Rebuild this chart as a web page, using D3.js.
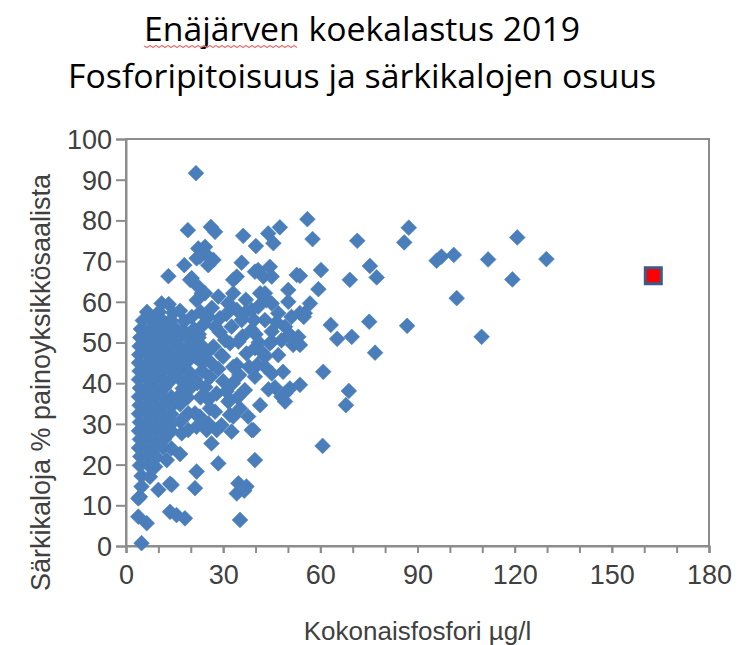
<!DOCTYPE html>
<html>
<head>
<meta charset="utf-8">
<script src="https://cdn.jsdelivr.net/npm/d3@7"></script>
<style>
  body { margin: 0; background: #fff; }
</style>
</head>
<body>
<div id="chart"></div>
<script>
// chart texts
var titleLines = ["Enäjärven koekalastus 2019", "Fosforipitoisuus ja särkikalojen osuus"];
var xLabel = "Kokonaisfosfori µg/l";
var yLabel = "Särkikaloja % painoyksikkösaalista";

// tick values
var xTicks = [0, 30, 60, 90, 120, 150, 180];
var xMinorTicks = [0, 10, 20, 30, 40, 50, 60, 70, 80, 90, 100, 110, 120, 130, 140, 150, 160, 170, 180];
var yTicks = [0, 10, 20, 30, 40, 50, 60, 70, 80, 90, 100];

// samples [total phosphorus, roach %]
var samplesLow = [
  [6.5, 57.5], [10.2, 57.5], [14.6, 57.3], [16.7, 57.8], [11, 59.6], [13.2, 59.4], [13.1, 66.3], [18, 69], [19.1, 77.6],
  [5.2, 55.4], [8, 55.6], [11.5, 55.2], [13.8, 55.5], [18, 55.2], [20.3, 56.3],
  [4.6, 53.3], [7.2, 53.1], [9.8, 53.5], [12.4, 53.2], [15.2, 53.4], [17.6, 53], [21, 53.3],
  [4.4, 51.2], [6.8, 51.4], [9.3, 51], [11.8, 51.3], [14.3, 51.1], [16.8, 51.4], [19.4, 51], [22.4, 51.2],
  [4.2, 49.1], [6.5, 49.3], [9, 48.9], [11.4, 49.2], [13.8, 49], [16.3, 49.3], [18.8, 48.8], [21.2, 49.1],
  [4.1, 47], [6.6, 47.2], [9.1, 46.8], [11.6, 47.1], [14.1, 46.9], [16.6, 47.2], [19.1, 46.8], [21.6, 47],
  [4, 45], [6.4, 44.8], [8.9, 45.2], [11.3, 44.9], [13.8, 45.1], [16.2, 44.8], [18.8, 45.2], [23.5, 45],
  [4.2, 43], [6.7, 43.2], [9.2, 42.8], [11.7, 43.1], [14.2, 42.9], [16.7, 43.2], [19.4, 42.8],
  [4, 40.9], [6.5, 41.1], [9, 40.7], [11.5, 41], [14, 40.8], [16.5, 41.1], [19, 40.7], [21.3, 40.9],
  [4.3, 38.8], [6.8, 39], [9.3, 38.6], [11.8, 38.9], [17.5, 38.7], [20, 38.9],
  [4, 36.7], [6.5, 36.9], [9, 36.5], [11.5, 36.8], [14, 36.6], [16.4, 36.9], [19, 36.5],
  [4.2, 34.6], [6.7, 34.8], [9.2, 34.4], [11.7, 34.7], [14.2, 34.5], [16.7, 34.8],
  [4, 32.5], [6.5, 32.7], [9, 32.3], [11.5, 32.6], [14, 32.4], [19.2, 32.6],
  [4.3, 30.4], [6.8, 30.6], [9.3, 30.2], [11.8, 30.5], [14.3, 30.3], [16.8, 30.6],
  [4, 28.3], [6.5, 28.5], [9, 28.1], [11.5, 28.4], [14, 28.2], [19.2, 28.5],
  [4.3, 26.2], [6.8, 26.4], [9.3, 26], [11.8, 26.3], [17.2, 27.7],
  [4, 24.1], [6.5, 24.3], [9, 23.9], [11.5, 24.2], [14, 24],
  [4.4, 22], [6.9, 22.2], [9.4, 21.8], [12.6, 21.1], [16.7, 22.6],
  [4.3, 19.8], [6.8, 20], [9, 19.5],
  [4.8, 17.2], [7.4, 17],
  [4.8, 14.6], [10, 13.8], [14.1, 15], [13.6, 15.3],
  [4.3, 12.1], [3.8, 11.7], [3.8, 7.2], [6.4, 5.6], [13.6, 8.4], [15.6, 7.6], [18.2, 6.8], [4.8, 0.7],
  [19.8, 65.4]
];

var samplesMid = [
  [21.6, 91.6], [26.2, 78.4], [27.5, 77.2], [22.3, 73.1], [22.8, 71.1], [24.9, 71.5], [27, 70.3], [21.8, 70.7],
  [24.4, 73.5], [25.4, 69], [36.2, 76.2], [40.1, 73.7], [43.9, 76.8], [47.5, 78.3], [45.5, 74.4], [56, 80.3], [57.6, 75.4],
  [35.7, 69.6], [20.3, 65.8], [22.3, 63.7], [23.4, 62.1], [21.8, 60.4], [24.4, 62.1],
  [34.2, 66.2], [33.1, 65.4], [39.8, 67.4], [44.4, 68.6], [42.4, 66.2], [45, 66.2], [40.8, 67.8], [52.7, 66.6], [53.7, 66.4],
  [28.5, 61.3], [33.1, 62.1], [31.6, 59.6], [34.2, 58], [41.4, 62.1], [43.4, 60.4], [40.8, 58.8], [38.8, 58], [50.1, 62.9],
  [53.7, 57.2], [56.8, 59.6], [60.2, 67.8], [59.4, 63.1], [54.9, 56.3], [45, 59.6], [47, 57.2], [50.1, 60], [51.1, 56.3],
  [55.2, 57.2], [42.9, 62.1],
  [25.4, 56.3], [27.5, 53.9], [32.6, 53.9], [35.7, 55.5], [38.8, 53.1], [42.9, 55.5], [45, 52.7], [49.1, 53.9], [53.2, 51.4],
  [30.6, 50.6], [34.7, 50.2], [45, 50.2], [53.7, 49.4],
  [32.1, 49.8], [29.5, 46.9], [26.4, 44.9], [34.2, 44.5], [37.2, 47.3], [39.8, 48.6], [42.9, 46.5], [44.4, 49.8], [47, 46.9],
  [51.6, 49.4], [45, 42.4], [48.5, 42.8], [39.8, 41.6], [36.7, 38.3], [49.1, 37.5], [50.6, 38.7], [49.1, 35.5], [28, 37.5],
  [31.6, 35.5], [41.4, 34.6], [27.5, 33], [33.1, 31.8], [37.7, 31.8], [25.4, 30.1], [29.5, 29.7], [32.6, 28.1], [38.8, 28.5],
  [26.4, 25.2], [28.5, 20.3], [39.8, 21.1], [34.7, 15.4], [37.2, 14.6], [34.2, 12.9], [36.5, 13.6], [35.2, 6.4],
  [30, 46.5], [33.1, 44], [42.4, 47.3], [48, 36.7], [35.2, 33.8], [32.1, 35.9], [25.9, 33.8], [22.8, 31.8], [21.8, 29.3],
  [24.9, 28.5], [28, 28.5], [32.1, 32.2], [39.3, 28.5], [23.4, 30.1], [21.3, 32.6], [21.8, 18.3], [21.3, 14.2],
  [60.7, 24.6], [60.9, 42.8], [53.7, 39.6],
  [22.5, 52], [24, 54.5], [23, 49.5], [25, 47.5], [21.5, 46.5], [23.5, 43], [22, 40], [24.5, 39], [26, 41.5], [28.5, 43.5],
  [23, 36.5], [25.5, 36], [27, 49], [29, 52.5], [26.5, 58.5], [23, 57.5], [29, 56], [31, 57], [37, 60.5], [36, 51.5],
  [40, 52], [41, 50], [38, 44], [40.5, 44.5], [43, 44], [46, 39], [44, 38.5], [30, 40.5], [33, 40], [35, 42], [31, 38],
  [34.5, 36.5], [46.5, 55], [48, 50.5], [50.5, 52], [39.5, 55.5], [37, 57.5]
];

var samplesHigh = [
  [71.4, 75], [87.3, 78.2], [85.9, 74.6], [120.8, 75.8], [129.8, 70.5], [95.9, 70.1], [97.4, 71.1], [101.2, 71.5],
  [111.8, 70.4], [119.3, 65.5], [102.1, 60.9], [109.8, 51.4], [86.8, 54.1], [69.1, 65.4], [75.3, 68.8], [77.4, 66],
  [63.2, 54.3], [65.2, 50.9], [69.7, 51.4], [75.1, 55.1], [76.9, 47.5], [68.8, 38.1], [67.9, 34.6]
];

// Enäjärvi 2019
var lakeEna = [[162.8, 66.4]];

var samples = samplesLow.concat(samplesMid, samplesHigh);

var width = 742, height = 645;
var margin = { top: 139, right: 33, bottom: 99, left: 126 };
var plotW = width - margin.left - margin.right,
    plotH = height - margin.top - margin.bottom;

var svg = d3.select("#chart").append("svg")
    .attr("width", width)
    .attr("height", height);

var x = d3.scaleLinear().domain([0, 180]).range([0, plotW]);
var y = d3.scaleLinear().domain([0, 100]).range([plotH, 0]);

var g = svg.append("g")
    .attr("transform", "translate(" + margin.left + "," + margin.top + ")");

var axisColor = "#8c8c8c";
var textColor = "#404040";

// title
var title = svg.append("g");
titleLines.forEach(function(t, i) {
    title.append("text")
        .attr("x", 362)
        .attr("y", 41 + i * 47)
        .attr("text-anchor", "middle")
        .attr("textLength", i == 0 ? 436 : 588)
        .attr("lengthAdjust", "spacingAndGlyphs")
        .style("font-family", "'Open Sans', 'Noto Sans', sans-serif")
        .style("font-size", "33px")
        .style("fill", "#000")
        .text(t);
});

// spell-check squiggle under the first word
var firstWordW = 436 * 9 / 26;
var squiggle = d3.path();
var sx0 = 362 - 218, sy = 46;
squiggle.moveTo(sx0, sy);
for (var k = 0; k < firstWordW / 3; k++) {
    squiggle.lineTo(sx0 + (k + 1) * 3, sy + (k % 2 == 0 ? 1.5 : -0.5));
}
svg.append("path")
    .attr("d", squiggle.toString())
    .attr("fill", "none")
    .attr("stroke", "#e57373")
    .attr("stroke-width", 1.2);

// plot frame
g.append("rect")
    .attr("width", plotW)
    .attr("height", plotH)
    .attr("fill", "none")
    .attr("stroke", axisColor)
    .attr("stroke-width", 2);

// Y axis
var yAxis = g.append("g")
    .call(d3.axisLeft(y).tickValues(yTicks).tickSize(10).tickPadding(4))
yAxis.select(".domain").attr("stroke", axisColor).attr("stroke-width", 2);
yAxis.selectAll(".tick line").attr("stroke", axisColor).attr("stroke-width", 2);
yAxis.selectAll(".tick text")
    .style("font-family", "'Liberation Sans', Arial, sans-serif")
    .style("font-size", "27px")
    .style("fill", textColor)
    .attr("dy", "0.35em");

// X axis, minor ticks every 10, labels every 30
var xAxisMinor = g.append("g")
    .attr("transform", "translate(0," + plotH + ")")
    .call(d3.axisBottom(x).tickValues(xMinorTicks).tickSize(7).tickFormat(""));
xAxisMinor.select(".domain").attr("stroke", axisColor).attr("stroke-width", 2);
xAxisMinor.selectAll(".tick line").attr("stroke", axisColor).attr("stroke-width", 2);

var xAxis = g.append("g")
    .attr("transform", "translate(0," + plotH + ")")
    .call(d3.axisBottom(x).tickValues(xTicks).tickSize(7).tickPadding(12));
xAxis.select(".domain").remove();
xAxis.selectAll(".tick line").attr("stroke", axisColor).attr("stroke-width", 2);
xAxis.selectAll(".tick text")
    .style("font-family", "'Liberation Sans', Arial, sans-serif")
    .style("font-size", "27px")
    .style("fill", textColor);

// axis titles
svg.append("text")
    .attr("x", margin.left + plotW / 2 + 0)
    .attr("y", 640)
    .attr("text-anchor", "middle")
    .style("font-family", "'Liberation Sans', Arial, sans-serif")
    .style("font-size", "26px")
    .style("fill", textColor)
    .text(xLabel);

svg.append("text")
    .attr("transform", "translate(50," + (margin.top + plotH / 2 + 40) + ") rotate(-90)")
    .attr("text-anchor", "middle")
    .style("font-family", "'Liberation Sans', Arial, sans-serif")
    .style("font-size", "27px")
    .style("fill", textColor)
    .text(yLabel);

// diamond markers
var diamond = {
    draw: function(context, size) {
        var r = Math.sqrt(size / 2);
        context.moveTo(0, -r);
        context.lineTo(r, 0);
        context.lineTo(0, r);
        context.lineTo(-r, 0);
        context.closePath();
    }
};

g.append("g")
    .selectAll("path")
    .data(samples)
    .enter()
    .append("path")
    .attr("transform", function(d) { return "translate(" + x(d[0]) + "," + y(d[1]) + ")"; })
    .attr("d", d3.symbol().type(diamond).size(124))
    .attr("fill", "#4a7ebb")
    .attr("stroke", "#4a7ebb")
    .attr("stroke-width", 0.6);

// highlighted lake
g.append("g")
    .selectAll("rect")
    .data(lakeEna)
    .enter()
    .append("rect")
    .attr("x", function(d) { return x(d[0]) - 8; })
    .attr("y", function(d) { return y(d[1]) - 8; })
    .attr("width", 16)
    .attr("height", 16)
    .attr("fill", "#ff0000")
    .attr("stroke", "#3b5b8a")
    .attr("stroke-width", 3);
</script>
</body>
</html>
